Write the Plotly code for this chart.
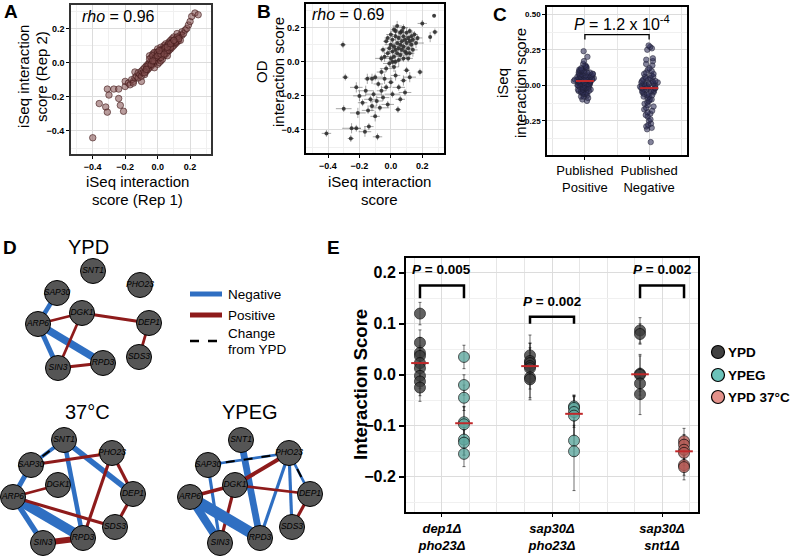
import numpy as np
import plotly.graph_objects as go

W, H = 792, 558
FONT = "Liberation Sans"

# ---------------- Panel A : replicate agreement ----------------
a_rep1 = [-0.40, -0.36, -0.32, -0.31, -0.31, -0.30, -0.27, -0.24, -0.24, -0.23, -0.21, -0.20, -0.20, -0.15, -0.10, -0.14,
          -0.18, -0.17, -0.16, -0.15, -0.14, -0.13, -0.12, -0.12, -0.11, -0.10,
          -0.10, -0.09, -0.09, -0.08, -0.08, -0.07, -0.07, -0.06, -0.06, -0.05,
          -0.05, -0.04, -0.04, -0.04, -0.03, -0.03, -0.03, -0.02, -0.02, -0.02,
          -0.01, -0.01, -0.01, 0.00, 0.00, 0.00, 0.00, 0.01, 0.01, 0.01,
          0.02, 0.02, 0.02, 0.02, 0.03, 0.03, 0.03, 0.04, 0.04, 0.04,
          0.05, 0.05, 0.05, 0.06, 0.06, 0.06, 0.07, 0.07, 0.07, 0.08,
          0.08, 0.08, 0.09, 0.09, 0.10, 0.10, 0.10, 0.11, 0.11, 0.12,
          0.12, 0.13, 0.13, 0.14, 0.15, 0.15, 0.16, 0.17, 0.18, 0.19,
          0.20, 0.21, 0.23, 0.25, -0.05, 0.06, 0.09, -0.02, 0.12, 0.14,
          -0.06, -0.05, -0.04, -0.03, -0.02, -0.01, 0.00, 0.01, 0.02, 0.03,
          0.04, 0.05, 0.06, 0.07, 0.08, 0.09, 0.10, 0.11, 0.12, 0.13,
          -0.08, -0.07, 0.00, 0.02, 0.04, 0.06, 0.08, 0.10, -0.03, 0.01]
a_rep2 = [-0.44, -0.24, -0.26, -0.29, -0.155, -0.19, -0.155, -0.155, -0.21, -0.25, -0.285, -0.14, -0.11, -0.11, -0.11, -0.055,
          -0.12, -0.13, -0.10, -0.12, -0.09, -0.08, -0.09, -0.06, -0.07, -0.05,
          -0.08, -0.04, -0.06, -0.03, -0.07, -0.05, -0.02, -0.04, -0.01, -0.03,
          0.00, -0.02, 0.01, 0.03, -0.01, 0.02, 0.05, 0.00, 0.03, -0.03,
          0.01, 0.04, 0.06, 0.02, 0.05, -0.01, 0.08, 0.03, 0.06, 0.00,
          0.04, 0.07, 0.01, 0.09, 0.05, 0.08, 0.02, 0.06, 0.10, 0.04,
          0.07, 0.05, 0.11, 0.08, 0.10, 0.06, 0.09, 0.12, 0.07, 0.10,
          0.13, 0.08, 0.11, 0.14, 0.12, 0.10, 0.15, 0.13, 0.11, 0.14,
          0.12, 0.15, 0.13, 0.16, 0.16, 0.18, 0.17, 0.19, 0.20, 0.22,
          0.24, 0.27, 0.29, 0.28, 0.04, 0.04, 0.09, 0.06, 0.17, 0.13,
          -0.02, 0.02, -0.01, 0.04, 0.01, 0.03, 0.06, 0.05, 0.03, 0.07,
          0.08, 0.09, 0.07, 0.11, 0.09, 0.12, 0.13, 0.12, 0.15, 0.14,
          -0.06, -0.04, 0.04, 0.05, 0.05, 0.09, 0.11, 0.13, 0.01, 0.07]
a_rho = "0.96"

# ---------------- Panel B : iSeq vs OD ----------------
b_iseq = [-0.41, -0.305, -0.29, -0.22, -0.30, -0.25, -0.255, -0.22, -0.165, -0.14, -0.085, -0.21, -0.145, -0.10, 0.045, 0.185, 0.25, 0.275, 0.28, 0.20,
          -0.20, -0.18, -0.16, -0.13, -0.12, -0.11, -0.09, -0.08, -0.07, -0.06,
          -0.05, -0.04, -0.03, -0.02, 0.00, 0.01, 0.03, 0.05, 0.06, 0.08,
          0.09, -0.12, -0.10, -0.15, -0.06, -0.03, 0.02, 0.10, 0.12,
          -0.02, -0.01, 0.00, 0.00, 0.01, 0.01, 0.02, 0.02, 0.03, 0.03,
          0.03, 0.04, 0.04, 0.05, 0.05, 0.06, 0.06, 0.06, 0.07, 0.07,
          0.08, 0.08, 0.08, 0.09, 0.09, 0.10, 0.10, 0.11, 0.11, 0.12,
          0.12, 0.13, 0.13, 0.14, 0.14, 0.15, 0.16, 0.17, 0.02, 0.04,
          -0.03, -0.04, -0.05, -0.01, 0.05, 0.07, 0.10, 0.00, -0.02, 0.03,
          0.11, 0.01, -0.06, 0.08, 0.12]
b_od = [-0.42, 0.10, -0.09, -0.15, -0.275, -0.39, -0.45, -0.39, -0.41, -0.38, -0.44, -0.30, -0.285, -0.32, -0.28, -0.06, 0.145, 0.27, 0.175, 0.225,
        -0.20, -0.24, -0.17, -0.22, -0.26, -0.19, -0.23, -0.13, -0.27, -0.17,
        -0.21, -0.10, -0.15, -0.25, -0.12, -0.19, -0.08, -0.15, -0.22, -0.11,
        -0.18, -0.10, -0.09, -0.10, -0.06, -0.04, -0.03, -0.05, -0.09,
        0.05, 0.08, 0.02, 0.10, 0.06, 0.13, 0.03, 0.09, 0.07, 0.15,
        0.00, 0.11, 0.05, 0.08, 0.14, 0.10, 0.04, 0.17, 0.12, 0.07,
        0.09, 0.15, 0.02, 0.13, 0.06, 0.11, 0.17, 0.08, 0.14, 0.12,
        0.18, 0.10, 0.15, 0.13, 0.07, 0.16, 0.11, 0.14, 0.19, 0.21,
        0.12, 0.03, 0.07, -0.01, 0.01, 0.18, 0.05, 0.16, 0.14, 0.18,
        0.02, 0.00, 0.02, 0.20, 0.05]
b_iseq_err = [0.03, 0.02, 0.02, 0.04, 0.05, 0.06, 0.02, 0.03, 0.04, 0.03, 0.03, 0.05, 0.04, 0.03, 0.02, 0.02, 0.01, 0.01, 0.02, 0.03,
              0.04, 0.03, 0.05, 0.04, 0.03, 0.05, 0.04, 0.03, 0.06, 0.03,
              0.04, 0.05, 0.03, 0.04, 0.02, 0.05, 0.03, 0.04, 0.03, 0.02,
              0.04, 0.03, 0.05, 0.02, 0.03, 0.04, 0.03, 0.02, 0.04,
              0.02, 0.03, 0.02, 0.04, 0.03, 0.02, 0.05, 0.03, 0.02, 0.03,
              0.02, 0.03, 0.02, 0.04, 0.03, 0.02, 0.05, 0.03, 0.02, 0.03,
              0.02, 0.03, 0.02, 0.04, 0.03, 0.02, 0.05, 0.03, 0.02, 0.03,
              0.02, 0.03, 0.02, 0.04, 0.03, 0.02, 0.05, 0.03, 0.02, 0.03,
              0.02, 0.03, 0.02, 0.04, 0.03, 0.02, 0.05, 0.03, 0.02, 0.03,
              0.03, 0.02, 0.04, 0.03, 0.02]
b_od_err = [0.02, 0.02, 0.02, 0.03, 0.02, 0.03, 0.02, 0.02, 0.03, 0.02, 0.02, 0.03, 0.02, 0.03, 0.02, 0.02, 0.03, 0.01, 0.02, 0.02,
            0.03, 0.02, 0.03, 0.02, 0.03, 0.02, 0.03, 0.02, 0.02, 0.03,
            0.02, 0.03, 0.02, 0.02, 0.03, 0.02, 0.03, 0.02, 0.02, 0.03,
            0.02, 0.03, 0.02, 0.03, 0.02, 0.02, 0.03, 0.02, 0.03,
            0.02, 0.03, 0.02, 0.02, 0.04, 0.02, 0.03, 0.02, 0.02, 0.03,
            0.02, 0.03, 0.02, 0.02, 0.04, 0.02, 0.03, 0.02, 0.02, 0.03,
            0.02, 0.03, 0.02, 0.02, 0.04, 0.02, 0.03, 0.02, 0.02, 0.03,
            0.02, 0.03, 0.02, 0.02, 0.04, 0.02, 0.03, 0.02, 0.02, 0.03,
            0.02, 0.03, 0.02, 0.02, 0.04, 0.02, 0.03, 0.02, 0.02, 0.03,
            0.02, 0.03, 0.02, 0.02, 0.03]
b_rho = "0.69"

# ---------------- Panel C : published interactions ----------------
c_categories = ["Published<br>Positive", "Published<br>Negative"]
c_positive = [0.24, 0.20, 0.17, 0.15, 0.14, 0.13, 0.13, 0.12, 0.12, 0.11, 0.11, 0.11, 0.10, 0.10, 0.10,
              0.09, 0.09, 0.09, 0.09, 0.08, 0.08, 0.08, 0.08, 0.07, 0.07, 0.07, 0.07, 0.07,
              0.06, 0.06, 0.06, 0.06, 0.06, 0.05, 0.05, 0.05, 0.05, 0.05, 0.05,
              0.04, 0.04, 0.04, 0.04, 0.04, 0.04, 0.03, 0.03, 0.03, 0.03, 0.03, 0.03, 0.03,
              0.02, 0.02, 0.02, 0.02, 0.02, 0.02, 0.01, 0.01, 0.01, 0.01, 0.01,
              0.00, 0.00, 0.00, 0.00, 0.00, -0.01, -0.01, -0.01, -0.01, -0.02, -0.02, -0.02,
              -0.03, -0.03, -0.03, -0.04, -0.04, -0.05, -0.05, -0.06, -0.06, -0.07, -0.08,
              -0.09, -0.10, -0.11, -0.02, -0.03, -0.05, -0.06, -0.08, -0.04]
c_negative = [0.28, 0.27, 0.26, 0.25, 0.19, 0.18, 0.17, 0.15, 0.14, 0.12, 0.11, 0.10, 0.09, 0.08, 0.08,
              0.07, 0.06, 0.06, 0.05, 0.05, 0.04, 0.04, 0.03, 0.03, 0.03, 0.02, 0.02, 0.02,
              0.01, 0.01, 0.01, 0.00, 0.00, 0.00, 0.00, -0.01, -0.01, -0.01, -0.02, -0.02, -0.02, -0.02,
              -0.03, -0.03, -0.03, -0.04, -0.04, -0.04, -0.05, -0.05, -0.06, -0.06, -0.07, -0.07,
              -0.08, -0.08, -0.09, -0.10, -0.10, -0.11, -0.12, -0.13, -0.14, -0.15, -0.16, -0.17,
              -0.18, -0.19, -0.20, -0.21, -0.22, -0.24, -0.25, -0.27, -0.28, -0.29, -0.30, -0.31, -0.40]
c_pvalue = "<i>P</i> = 1.2 x 10<sup>-4</sup>"

# ---------------- Panel D : networks ----------------
node_names = ["SNT1", "PHO23", "SAP30", "DGK1", "ARP6", "DEP1", "SDS3", "SIN3", "RPD3"]
layout_ypd = {"SNT1": (93, 16), "PHO23": (140, 30), "SAP30": (57, 38), "DGK1": (82, 58), "ARP6": (38, 69),
              "DEP1": (149, 68), "SDS3": (139, 102), "SIN3": (58, 113), "RPD3": (103, 108)}
layout_stress = {"SNT1": (64, 15), "PHO23": (112, 28), "SAP30": (31, 40), "DGK1": (58, 60), "ARP6": (13, 72),
                 "DEP1": (133, 69), "SDS3": (115, 102), "SIN3": (43, 118), "RPD3": (83, 113)}
# (node a, node b, interaction score, changed from YPD)
edges_ypd = [("SAP30", "ARP6", -0.10, False), ("ARP6", "DGK1", 0.06, False), ("ARP6", "RPD3", -0.17, False),
             ("ARP6", "SIN3", -0.11, False), ("DGK1", "SIN3", 0.06, False), ("DGK1", "DEP1", 0.07, False),
             ("SIN3", "RPD3", 0.07, False), ("DEP1", "SDS3", 0.06, False)]
edges_37 = [("SNT1", "SAP30", -0.08, True), ("SNT1", "RPD3", -0.10, False), ("SNT1", "DEP1", -0.12, False),
            ("SAP30", "PHO23", 0.07, False), ("SAP30", "ARP6", -0.11, False), ("ARP6", "DGK1", 0.06, False),
            ("ARP6", "SIN3", -0.12, False), ("ARP6", "RPD3", -0.22, False), ("ARP6", "SDS3", 0.07, False),
            ("PHO23", "RPD3", 0.07, False), ("PHO23", "DEP1", 0.07, False), ("DEP1", "SDS3", 0.07, False),
            ("SIN3", "RPD3", 0.13, False)]
edges_ypeg = [("SNT1", "RPD3", -0.15, False), ("SAP30", "PHO23", -0.06, True), ("SAP30", "SIN3", -0.07, False),
              ("PHO23", "DGK1", 0.09, False), ("PHO23", "RPD3", -0.07, False), ("PHO23", "SDS3", -0.07, False),
              ("PHO23", "DEP1", -0.06, True), ("ARP6", "DGK1", 0.08, False), ("DGK1", "SIN3", 0.07, False),
              ("DGK1", "DEP1", 0.06, False), ("ARP6", "SIN3", -0.18, False), ("ARP6", "RPD3", -0.25, False),
              ("DEP1", "SDS3", 0.07, False)]

# ---------------- Panel E : condition comparisons ----------------
e_pairs = ["dep1Δ<br>pho23Δ", "sap30Δ<br>pho23Δ", "sap30Δ<br>snt1Δ"]
e_conditions = ["YPD", "YPEG", "YPD 37°C"]
e_ypd = [[0.12, 0.063, 0.043, 0.037, 0.023, 0.013, -0.002, -0.013, -0.025],
         [0.038, 0.027, 0.023, 0.017, 0.013, -0.005, -0.009],
         [0.087, 0.080, 0.002, 0.000, -0.017, -0.038]]
e_ypd_err = [[0.022, 0.025, 0.030, 0.020, 0.028, 0.030, 0.025, 0.028, 0.027],
             [0.040, 0.035, 0.030, 0.045, 0.030, 0.040, 0.040],
             [0.025, 0.020, 0.035, 0.040, 0.030, 0.040]]
e_alt = [[0.035, -0.020, -0.045, -0.093, -0.097, -0.127, -0.133, -0.155],
         [-0.062, -0.065, -0.073, -0.080, -0.129, -0.150],
         [-0.130, -0.137, -0.147, -0.153, -0.177, -0.181]]
e_alt_err = [[0.023, 0.020, 0.025, 0.030, 0.035, 0.030, 0.025, 0.025],
             [0.020, 0.025, 0.030, 0.040, 0.030, 0.077],
             [0.025, 0.020, 0.020, 0.025, 0.020, 0.025]]
e_alt_condition = ["YPEG", "YPEG", "YPD 37°C"]
e_pvalues = ["0.005", "0.002", "0.002"]

# ---------------- helpers ----------------
def fx(x):
    return x / W


def fy(y):
    return 1 - y / H


COL_NEG = "#2f6fc2"
COL_POS = "#8e1b1b"
COND_FILL = {"YPD": "#3c3c3c", "YPEG": "#5fa79e", "YPD 37°C": "#b35a55"}
COND_LEG = {"YPD": "#404040", "YPEG": "#6cc3ba", "YPD 37°C": "#e3918a"}
MEDIAN_COL = "#c0282a"

fig = go.Figure()


def base_axis(domain, rng, **kw):
    d = dict(domain=domain, range=rng, showline=True, mirror=True, linecolor="black", linewidth=1.6,
             showgrid=True, gridcolor="#dcdcdc", gridwidth=1, zeroline=False, ticks="outside",
             ticklen=3, tickwidth=1, tickcolor="black",
             tickfont=dict(family=FONT, size=9, color="black", weight="bold"), fixedrange=True)
    d.update(kw)
    return d


def minor_grid(dt, t0=0):
    return dict(tick0=t0, dtick=dt, showgrid=True, gridcolor="#f0f0f0", gridwidth=1, ticks="")


# ---- A
fig.add_trace(go.Scatter(x=a_rep1, y=a_rep2, mode="markers", xaxis="x", yaxis="y",
                         marker=dict(size=6.5, color="rgba(130,78,78,0.55)",
                                     line=dict(color="rgba(60,20,20,0.85)", width=0.7)),
                         hoverinfo="skip"))
# ---- B
fig.add_trace(go.Scatter(x=b_iseq, y=b_od, mode="markers", xaxis="x2", yaxis="y2",
                         error_x=dict(type="data", array=b_iseq_err, color="rgba(60,60,60,0.45)", thickness=1, width=0),
                         error_y=dict(type="data", array=b_od_err, color="rgba(60,60,60,0.45)", thickness=1, width=0),
                         marker=dict(size=4, color="rgba(40,40,40,0.85)"), hoverinfo="skip"))
# ---- C
for i, vals in enumerate([c_positive, c_negative]):
    pos = i + 1
    fig.add_trace(go.Box(y=vals, x0=pos, boxpoints="all", jitter=0.7, pointpos=0, width=0.5,
                         fillcolor="rgba(0,0,0,0)", line=dict(width=0, color="rgba(0,0,0,0)"),
                         marker=dict(size=5.5, color="rgba(50,50,90,0.6)",
                                     line=dict(color="rgba(30,30,50,0.85)", width=0.6)),
                         xaxis="x3", yaxis="y3", hoverinfo="skip"))
    med = float(np.median(vals))
    fig.add_trace(go.Scatter(x=[pos - 0.14, pos + 0.14], y=[med, med], mode="lines", xaxis="x3", yaxis="y3",
                             line=dict(color=MEDIAN_COL, width=2), hoverinfo="skip"))

# ---- E
for g in range(3):
    for offs, vals, errs, cond in [(-0.2, e_ypd[g], e_ypd_err[g], "YPD"),
                                   (0.2, e_alt[g], e_alt_err[g], e_alt_condition[g])]:
        xpos = g + 1 + offs
        fig.add_trace(go.Scatter(x=[xpos] * len(vals), y=vals, mode="markers", xaxis="x4", yaxis="y4",
                                 error_y=dict(type="data", array=errs, color="rgba(0,0,0,0.7)", thickness=0.8, width=1.5),
                                 marker=dict(size=11, color=COND_FILL[cond], opacity=0.8,
                                             line=dict(color="black", width=0.8)),
                                 hoverinfo="skip", cliponaxis=False))
        med = float(np.median(vals))
        fig.add_trace(go.Scatter(x=[xpos - 0.08, xpos + 0.08], y=[med, med], mode="lines", xaxis="x4", yaxis="y4",
                                 line=dict(color=MEDIAN_COL, width=2), hoverinfo="skip"))

# ---- D networks
net_specs = [("x5", "y5", layout_ypd, edges_ypd), ("x6", "y6", layout_stress, edges_37),
             ("x7", "y7", layout_stress, edges_ypeg)]
for xa, ya, lay_nodes, edges in net_specs:
    for a, b, score, changed in edges:
        xs = [lay_nodes[a][0], lay_nodes[b][0]]
        ys = [lay_nodes[a][1], lay_nodes[b][1]]
        fig.add_trace(go.Scatter(x=xs, y=ys, mode="lines", xaxis=xa, yaxis=ya, hoverinfo="skip",
                                 line=dict(color=COL_NEG if score < 0 else COL_POS, width=abs(score) * 45)))
        if changed:
            fig.add_trace(go.Scatter(x=xs, y=ys, mode="lines", xaxis=xa, yaxis=ya, hoverinfo="skip",
                                     line=dict(color="black", width=2, dash="dash")))
    fig.add_trace(go.Scatter(x=[lay_nodes[n][0] for n in node_names], y=[lay_nodes[n][1] for n in node_names],
                             mode="markers+text", text=["<i>%s</i>" % n for n in node_names],
                             textposition="middle center", xaxis=xa, yaxis=ya, cliponaxis=False,
                             textfont=dict(family=FONT, size=8.5, color="black"),
                             marker=dict(size=25, color="#555555", line=dict(color="black", width=1)),
                             hoverinfo="skip"))

# ---------------- layout / axes ----------------
lay = dict(width=W, height=H, autosize=False, margin=dict(l=0, r=0, t=0, b=0),
           paper_bgcolor="white", plot_bgcolor="white", showlegend=False,
           font=dict(family=FONT, color="black"))

lay["xaxis"] = base_axis([fx(71), fx(211)], [-0.534, 0.329], anchor="y", tick0=0, dtick=0.2,
                         tickformat=".1f", minor=minor_grid(0.1), linecolor="#333333")
lay["yaxis"] = base_axis([fy(154), fy(5)], [-0.535, 0.337], anchor="x", tick0=0, dtick=0.2,
                         tickformat=".1f", minor=minor_grid(0.1), linecolor="#333333")
lay["xaxis2"] = base_axis([fx(306), fx(444)], [-0.54, 0.338], anchor="y2", tick0=0, dtick=0.2,
                          tickformat=".1f", minor=minor_grid(0.1))
lay["yaxis2"] = base_axis([fy(153), fy(4)], [-0.535, 0.339], anchor="x2", tick0=0, dtick=0.2,
                          tickformat=".1f", minor=minor_grid(0.1))
lay["xaxis3"] = base_axis([fx(547), fx(687)], [0.41, 2.59], anchor="y3", type="linear",
                          tickmode="array", tickvals=[1, 2], ticktext=c_categories,
                          tickfont=dict(family=FONT, size=13, color="black"),
                          minor=dict(tickmode="linear", tick0=0.5, dtick=0.5, showgrid=True,
                                     gridcolor="#e6e6e6", ticks=""))
lay["yaxis3"] = base_axis([fy(155), fy(7)], [-0.491, 0.551], anchor="x3", tick0=0, dtick=0.25,
                          tickformat=".2f", minor=minor_grid(0.125),
                          tickfont=dict(family=FONT, size=8, color="black", weight="bold"))
lay["xaxis4"] = base_axis([fx(406), fx(698)], [0.673, 3.327], anchor="y4", tickmode="array",
                          tickvals=[1, 2, 3],
                          ticktext=["<b><i>%s</i></b><br><b><i>%s</i></b>" % tuple(p.split("<br>")) for p in e_pairs],
                          tickfont=dict(family=FONT, size=13, color="black"),
                          minor=dict(tickmode="linear", tick0=0.25, dtick=0.25, showgrid=True,
                                     gridcolor="#e6e6e6", ticks=""), linewidth=2)
lay["yaxis4"] = base_axis([fy(512), fy(258)], [-0.269, 0.229], anchor="x4", tick0=0, dtick=0.1,
                          tickformat=".1f", tickfont=dict(family=FONT, size=16, color="black", weight="bold"),
                          ticklen=5, tickwidth=2, minor=minor_grid(0.05), linewidth=2)

net_boxes = [("xaxis5", "yaxis5", (0, 180), (255, 385)),
             ("xaxis6", "yaxis6", (0, 180), (425, 558)),
             ("xaxis7", "yaxis7", (177, 357), (425, 558))]
for xk, yk, (x0, x1), (y0, y1) in net_boxes:
    lay[xk] = dict(domain=[fx(x0), fx(x1)], range=[0, x1 - x0], visible=False, fixedrange=True,
                   anchor=yk.replace("axis", ""))
    lay[yk] = dict(domain=[fy(y1), fy(y0)], range=[y1 - y0, 0], visible=False, fixedrange=True,
                   anchor=xk.replace("axis", ""))

fig.update_layout(**lay)

ann = []


def text(x, y, s, size, angle=0, bold=False, xanchor="center"):
    if bold:
        s = "<b>%s</b>" % s
    ann.append(dict(x=fx(x), y=fy(y), xref="paper", yref="paper", text=s, showarrow=False,
                    xanchor=xanchor, yanchor="middle", textangle=angle,
                    font=dict(family=FONT, size=size, color="black")))


# panel letters
for letter, x, y in [("A", 11, 12), ("B", 264, 11), ("C", 500, 14), ("D", 10, 247), ("E", 333, 247)]:
    text(x, y, letter, 19, bold=True)

# A titles
text(23, 77, "iSeq interaction", 15, angle=-90)
text(41, 77, "score (Rep 2)", 15, angle=-90)
text(137, 181, "iSeq interaction", 15)
text(137, 199, "score (Rep 1)", 15)
text(80, 16, "<i>rho</i> = " + a_rho, 16, xanchor="left")
# B titles
text(261, 72, "OD", 15, angle=-90)
text(278, 72, "interaction score", 15, angle=-90)
text(379, 181, "iSeq interaction", 15)
text(379, 199, "score", 15)
text(310, 15, "<i>rho</i> = " + b_rho, 16, xanchor="left")
# C titles
text(502, 83, "iSeq", 15, angle=-90)
text(520, 83, "interaction score", 15, angle=-90)
text(622, 23, c_pvalue, 16)
# D titles & legend
text(88, 247, "YPD", 20)
text(87, 412, "37°C", 20)
text(250, 412, "YPEG", 20)
text(226, 294, "Negative", 13.5, xanchor="left")
text(226, 315, "Positive", 13.5, xanchor="left")
text(226, 333, "Change", 13.5, xanchor="left")
text(226, 349, "from YPD", 13.5, xanchor="left")
# E titles
text(360, 385, "Interaction Score", 18.5, angle=-90, bold=True)
for cond, y in zip(e_conditions, [352, 375, 397]):
    text(726, y, cond, 13.5, bold=True, xanchor="left")

# E p-values
p_y = [0.207, 0.143, 0.207]
for g, (pv, yy) in enumerate(zip(e_pvalues, p_y)):
    ann.append(dict(x=g + 1, y=yy, xref="x4", yref="y4", showarrow=False, xanchor="center", yanchor="middle",
                    text="<b><i>P</i> = %s</b>" % pv, font=dict(family=FONT, size=13.5, color="black")))

shapes = []
# D legend lines
shapes.append(dict(type="line", xref="paper", yref="paper", x0=fx(190), x1=fx(222), y0=fy(294), y1=fy(294),
                   line=dict(color=COL_NEG, width=5)))
shapes.append(dict(type="line", xref="paper", yref="paper", x0=fx(190), x1=fx(222), y0=fy(315), y1=fy(315),
                   line=dict(color=COL_POS, width=5)))
shapes.append(dict(type="line", xref="paper", yref="paper", x0=fx(190), x1=fx(222), y0=fy(341), y1=fy(341),
                   line=dict(color="black", width=2.5, dash="dash")))
# E legend circles
for cond, y in zip(e_conditions, [352, 375, 397]):
    shapes.append(dict(type="circle", xref="paper", yref="paper", x0=fx(711.5), x1=fx(724.5),
                       y0=fy(y + 6.5), y1=fy(y - 6.5), fillcolor=COND_LEG[cond],
                       line=dict(color="black", width=1.2)))
# E brackets
br = [(0.175, 0.150), (0.114, 0.100), (0.175, 0.150)]
for g, (top, leg) in enumerate(br):
    x0, x1 = g + 1 - 0.2, g + 1 + 0.2
    shapes.append(dict(type="path", xref="x4", yref="y4",
                       path="M %f,%f L %f,%f L %f,%f L %f,%f" % (x0, leg, x0, top, x1, top, x1, leg),
                       line=dict(color="black", width=2.5)))
# C bracket
shapes.append(dict(type="path", xref="x3", yref="y3",
                   path="M 1,0.322 L 1,0.357 L 2,0.357 L 2,0.322", line=dict(color="black", width=1.3)))

fig.update_layout(annotations=ann, shapes=shapes)
fig.write_html("out.html", config={"displayModeBar": False},
               post_script="document.body.style.margin='0px';document.body.style.overflow='hidden';")
